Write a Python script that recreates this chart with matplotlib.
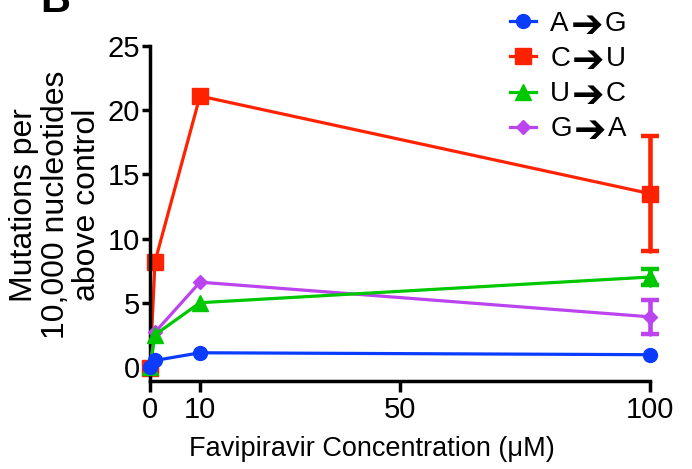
import numpy as np
import matplotlib
matplotlib.use('Agg')
import matplotlib.pyplot as plt

plt.rcParams['font.family'] = ['Liberation Sans', 'DejaVu Sans']

# concentraciones y mutaciones por 10,000 nt sobre el control
conc = [0, 1, 10, 100]
ag = [0.0, 0.5, 1.1, 0.95]
cu = [-0.1, 8.2, 21.1, 13.5]
uc = [0.0, 2.5, 5.0, 7.0]
ga = [0.0, 2.7, 6.6, 3.9]
# barras de error solo en 100 uM
err_x = [100]
cu_err = [4.45]
uc_err = [0.6]
ga_err = [1.3]

series = [('A', 'G', ag, None, '#0A3CFF', 'o', 10, 5),
          ('C', 'U', cu, cu_err, '#FF2200', 's', 11, 2),
          ('U', 'C', uc, uc_err, '#00C800', '^', 11, 4),
          ('G', 'A', ga, ga_err, '#BB44EE', 'D', 7.5, 3)]

fig = plt.figure(figsize=(6.92, 4.69), dpi=100)
ax = fig.add_axes([150/692, 1 - 381/469, 500/692, 335/469])

lw = 2.3
handles = []
for a, b, vals, err, col, mk, ms, z in series:
    ln, = ax.plot(conc, vals, color=col, marker=mk, ms=ms, lw=lw, zorder=z, clip_on=False)
    handles.append(ln)
    if err is not None:
        eb = ax.errorbar(err_x, [vals[-1]], yerr=err, fmt='none', ecolor=col,
                         elinewidth=3.3, capsize=6.5, capthick=3.2, zorder=z)
        for c in eb[1]:
            c.set_clip_on(False)
        for c in eb[2]:
            c.set_capstyle('round')
            c.set_clip_on(False)

ax.set_xlim(0, 100)
ax.set_ylim(-1.1, 25)
ax.set_xticks([0, 10, 50, 100])
ax.set_yticks([0, 5, 10, 15, 20, 25])
ax.spines['top'].set_visible(False)
ax.spines['right'].set_visible(False)
ax.spines['left'].set_linewidth(2.5)
ax.spines['bottom'].set_linewidth(2.5)
ax.tick_params(axis='x', width=2.5, length=8, labelsize=21, pad=3)
ax.tick_params(axis='y', width=2.5, length=6, labelsize=21, pad=1)

ax.set_xlabel('Favipiravir Concentration (\u03bcM)', fontsize=19.5, va='top')
ax.xaxis.set_label_coords(0.444, -0.165)
ax.set_ylabel('Mutations per\n10,000 nucleotides\nabove control', fontsize=23,
              linespacing=1.08)
ax.yaxis.set_label_coords(-0.095, 0.525)

# leyenda: letra, flecha gruesa, letra
leg = ax.legend(handles, [s[0] for s in series], loc='upper left',
                bbox_to_anchor=(360/500, 1 + 35/335), frameon=False, fontsize=20,
                handlelength=0.95, handletextpad=0.5, labelspacing=0.33, borderpad=0,
                borderaxespad=0)
fig.canvas.draw()
r = fig.canvas.get_renderer()
for t, s in zip(leg.get_texts(), series):
    bb = t.get_window_extent(r)
    ymid = (bb.y0 + bb.y1) / 2 - 2
    arr = fig.text((bb.x1 + 2) / 692, ymid / 469, '\u2794', fontsize=28,
                   family='DejaVu Sans', va='center', ha='left')
    bb2 = arr.get_window_extent(r)
    fig.text((bb2.x1 + 1) / 692, bb.y0 / 469, s[1], fontsize=20, va='bottom', ha='left')

fig.text(40/692, 1 - 12/469, 'B', fontsize=30, weight='bold', va='baseline', ha='left')

fig.savefig('out.png', dpi=100)
